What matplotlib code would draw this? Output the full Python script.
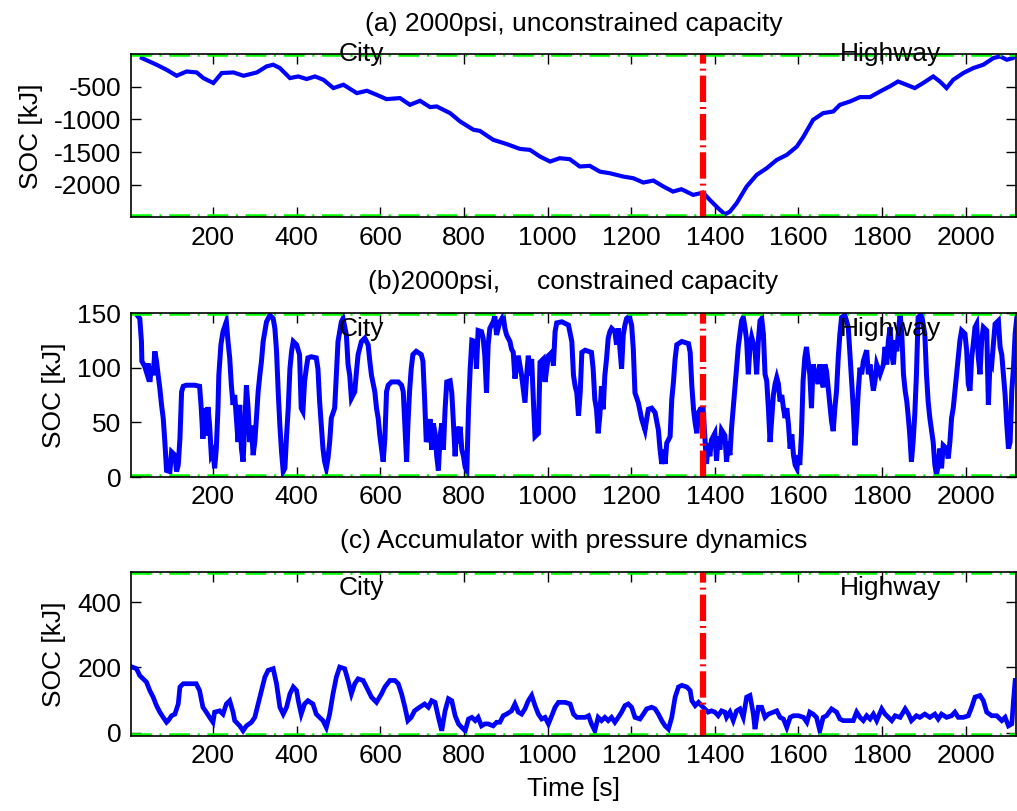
import numpy as np
import matplotlib
matplotlib.use("Agg")
import matplotlib.pyplot as plt

# (a) 2000psi, unconstrained capacity
t_a = [30, 65, 89, 113, 137, 161, 177, 201, 221, 249, 273, 305, 328, 344, 360, 384,
       404, 424, 444, 464, 488, 512, 544, 568, 591, 615, 647, 671, 695, 719, 735, 767,
       791, 823, 838, 870, 902, 934, 958, 982, 1006, 1029, 1053, 1077, 1101, 1125, 1149,
       1181, 1205, 1229, 1253, 1277, 1300, 1320, 1348, 1372, 1388, 1408, 1424, 1436,
       1452, 1476, 1500, 1524, 1548, 1572, 1596, 1612, 1635, 1659, 1683, 1699, 1723,
       1747, 1771, 1795, 1818, 1838, 1858, 1878, 1898, 1922, 1938, 1954, 1970, 1994,
       2018, 2042, 2066, 2082, 2098, 2113, 2122]
soc_a = [-61, -163, -240, -332, -266, -281, -367, -443, -290, -281, -332, -281, -189,
         -163, -214, -367, -342, -382, -342, -393, -520, -469, -597, -561, -622, -689,
         -673, -776, -714, -811, -801, -903, -1031, -1158, -1174, -1311, -1375, -1450,
         -1465, -1567, -1643, -1592, -1607, -1719, -1709, -1797, -1822, -1873, -1898,
         -1964, -1934, -2025, -2102, -2066, -2153, -2118, -2230, -2357, -2450, -2409,
         -2281, -2025, -1847, -1745, -1618, -1541, -1414, -1261, -1005, -903, -878,
         -776, -725, -658, -658, -572, -495, -419, -469, -520, -443, -342, -419, -520,
         -393, -290, -214, -163, -61, -36, -87, -61, -10]

# (b) 2000psi, constrained capacity
t_b = [21, 25, 29, 30, 37, 41, 45, 49, 53, 57, 61, 65, 69, 73, 77, 81, 85, 89, 97, 101,
       109, 113, 117, 121, 125, 129, 136, 156, 168, 172, 176, 180, 184, 188, 192, 196,
       200, 204, 208, 212, 214, 219, 224, 232, 236, 240, 244, 248, 252, 256, 260, 264,
       268, 272, 276, 280, 284, 288, 292, 296, 300, 304, 308, 312, 316, 320, 328, 336,
       344, 348, 352, 356, 360, 364, 368, 372, 376, 380, 384, 388, 392, 400, 407, 411,
       415, 419, 423, 427, 435, 447, 451, 455, 459, 463, 467, 471, 475, 479, 483, 491,
       495, 499, 507, 511, 519, 523, 527, 531, 539, 543, 547, 555, 563, 571, 575, 579,
       587, 591, 595, 599, 603, 607, 611, 615, 619, 627, 643, 651, 655, 659, 663, 666,
       670, 674, 678, 686, 698, 702, 706, 710,
       715, 719, 723, 727, 731, 735, 739, 743, 747, 751, 755, 759, 767, 771, 775, 779,
       783, 787, 791, 795, 799, 803, 807, 811, 815, 819, 827, 830, 834, 842, 846, 850,
       854, 858, 862, 870, 874, 878, 886, 894, 898, 902, 910, 914, 918, 922, 930, 938,
       946, 950, 954, 958, 962, 966, 970, 978, 982, 990, 994, 998, 1002, 1010, 1014,
       1018, 1022, 1034, 1050, 1058, 1062, 1066, 1070, 1074, 1078, 1082, 1090, 1105,
       1109, 1113, 1117, 1121, 1125, 1129, 1133, 1137, 1141, 1145, 1149, 1153, 1161,
       1165, 1169, 1173, 1177, 1181, 1185, 1189, 1195, 1201, 1205, 1209, 1217, 1225,
       1233, 1237, 1241, 1249, 1257, 1265, 1269, 1273, 1277, 1281, 1285, 1293, 1297,
       1301, 1305, 1309, 1321, 1337, 1341, 1345, 1349, 1353, 1357, 1361, 1365, 1372,
       1376, 1380, 1384, 1388, 1392, 1400, 1404, 1408, 1412, 1416,
       1424, 1428, 1432, 1436, 1440, 1444, 1448, 1452, 1456, 1460, 1464, 1468, 1472,
       1476, 1480, 1484, 1488, 1496, 1500, 1504, 1508, 1512, 1516, 1520, 1524, 1528,
       1532, 1536, 1540, 1544, 1548, 1552, 1556, 1560, 1564, 1568, 1572, 1576, 1580,
       1584, 1588, 1592, 1596, 1600, 1603, 1607, 1611, 1615, 1619, 1623, 1627, 1631,
       1635, 1639, 1643, 1647, 1651, 1655, 1659, 1663, 1667, 1671, 1675, 1679, 1683,
       1687, 1691, 1695, 1699, 1703, 1711, 1719, 1723, 1727, 1731, 1735, 1739, 1743,
       1747, 1751, 1755, 1763, 1767, 1771, 1779, 1783, 1787, 1795, 1803, 1807, 1811,
       1815, 1819, 1823, 1827, 1831, 1835, 1839, 1843, 1847, 1851, 1855, 1859, 1862,
       1866, 1870, 1874, 1878, 1882, 1886, 1894, 1902, 1906, 1910, 1914, 1922, 1926,
       1930, 1934, 1938, 1942, 1946, 1954, 1958, 1962, 1966, 1970, 1974, 1978, 1982,
       1986, 1990, 1998, 2002, 2006, 2010, 2014, 2018, 2022, 2026, 2030, 2034, 2038,
       2042, 2050, 2054, 2058, 2062, 2070, 2078, 2082, 2086, 2090, 2094, 2098, 2102,
       2106, 2110, 2114, 2118, 2122]
soc_b = [147, 145, 124, 106, 101, 96, 104, 87, 101, 93, 115, 106, 93, 81, 66, 54, 32, 6,
         5, 23, 20, 5, 11, 35, 78, 83, 84, 84, 83, 63, 35, 63, 38, 64, 47, 20, 23, 8, 26,
         63, 93, 121, 133, 142, 124, 109, 84, 66, 75, 54, 32, 66, 26, 14, 47, 84, 63, 32,
         47, 20, 32, 54, 78, 93, 106, 124, 142, 148, 145, 136, 115, 78, 47, 23, 5, 8, 38,
         63, 99, 115, 124, 121, 112, 63, 60, 87, 99, 109, 110, 109, 99, 69, 47, 26, 14, 8,
         17, 32, 54, 63, 93, 124, 142, 145, 130, 103, 93, 72, 78, 96, 112, 124, 127, 121,
         106, 93, 78, 63, 54, 38, 26, 14, 35, 78, 84, 87, 87, 84, 78, 47, 14, 47, 78, 99,
         112, 115, 112, 106, 72, 32,
         40, 53, 25, 49, 40, 19, 6, 37, 49, 25, 62, 87, 88, 77, 49, 19, 46, 31, 46, 25,
         19, 9, 6, 62, 99, 125, 124, 99, 134, 133, 127, 111, 77, 121, 136, 142, 147, 130,
         142, 147, 136, 130, 124, 117, 114, 90, 111, 93, 68, 93, 111, 93, 108, 71, 37,
         40, 105, 108, 87, 99, 111, 114, 102, 133, 141, 142, 139, 124, 93, 83, 77, 56,
         77, 114, 116, 114, 99, 71, 62, 40, 56, 83, 62, 93, 108, 127, 133, 136, 133, 121,
         136, 117, 99, 130, 139, 145, 147, 139, 117, 77, 68, 53, 43, 53, 62, 63, 59, 43,
         25, 12, 25, 12, 31, 37, 71, 87, 108, 121, 124, 122, 114, 83, 62, 49, 40, 59, 62,
         62, 37, 12, 31, 19, 34, 40, 15, 37, 25, 43,
         38, 14, 32, 20, 45, 63, 82, 100, 119, 131, 143, 146, 137, 125, 94, 119, 128,
         116, 94, 125, 143, 145, 131, 94, 88, 63, 32, 54, 75, 85, 91, 85, 69, 75, 63, 54,
         63, 48, 26, 39, 20, 11, 8, 20, 11, 39, 88, 109, 119, 106, 94, 63, 103, 97, 94,
         85, 103, 91, 82, 103, 97, 82, 66, 51, 42, 63, 79, 109, 131, 146, 148, 137, 112,
         88, 63, 29, 51, 79, 100, 94, 106, 116, 94, 103, 79, 88, 103, 94, 103, 119, 103,
         125, 137, 112, 103, 125, 115, 134, 149, 131, 94, 79, 69, 57, 39, 14, 32, 57, 94,
         146, 149, 131, 94, 69, 54, 32, 11, 2, 11, 26, 8, 29, 26, 17, 32, 54, 63, 79, 94,
         109, 125, 134, 131, 116, 85, 79, 109, 122, 137, 140, 109, 94, 125, 137, 134, 66,
         106, 103, 140, 143, 119, 112, 94, 75, 48, 26, 32, 79, 100, 131, 146]

# (c) Accumulator with pressure dynamics
t_c = [7, 17, 25, 33, 41, 49, 57, 65, 73, 81, 89, 93, 101, 109, 117, 121, 129, 140, 160,
       168, 176, 184, 192, 200, 204, 216, 224, 232, 240, 248, 252, 264, 272, 280, 292,
       300, 308, 316, 324, 332, 344, 352, 360, 368, 376, 384, 392, 400, 404, 411, 419,
       427, 439, 447, 455, 463, 471, 479, 487, 495, 503, 515, 523, 531, 539, 547, 559,
       567, 579, 591, 603, 611, 623, 635, 643, 651, 659, 666, 674, 682, 694, 706,
       715, 723, 731, 739, 747, 755, 763, 771, 779, 787, 795, 803, 811, 819, 827, 834,
       842, 850, 858, 870, 878, 886, 894, 902, 914, 922, 930, 938, 946, 954, 962, 970,
       978, 986, 994, 1002, 1010, 1018, 1026, 1042, 1054, 1062, 1070, 1082, 1090, 1098,
       1105, 1113, 1121, 1129, 1137, 1145, 1153, 1161, 1169, 1177, 1185, 1193, 1201,
       1209, 1221, 1229, 1237, 1249, 1257, 1265, 1273, 1281, 1289, 1297, 1305, 1313,
       1321, 1333, 1341, 1345, 1353, 1361, 1368, 1376, 1384, 1392, 1400, 1408, 1416,
       1424, 1428, 1436, 1444, 1452, 1460, 1468, 1476, 1484, 1492, 1496, 1504, 1512,
       1520, 1528, 1540, 1548, 1556, 1564, 1572, 1580, 1588, 1600, 1612, 1620, 1627,
       1635, 1643, 1651, 1659, 1667, 1679, 1691, 1699, 1707, 1719, 1731, 1739, 1747,
       1755, 1763, 1771, 1779, 1787, 1799, 1807, 1815, 1823, 1831, 1843, 1855, 1863,
       1870, 1882, 1890, 1902, 1914, 1926, 1934, 1942, 1954, 1966, 1974, 1982, 1994,
       2006, 2014, 2022, 2034, 2042, 2050, 2062, 2074, 2086, 2094, 2102, 2110, 2114,
       2118]
soc_c = [201, 196, 175, 165, 155, 129, 109, 83, 63, 47, 32, 37, 52, 57, 88, 140, 150, 150,
         150, 129, 78, 63, 47, 32, 63, 67, 57, 88, 98, 63, 37, 21, 6, 21, 32, 47, 88, 129,
         170, 191, 196, 150, 78, 57, 78, 119, 140, 129, 98, 57, 88, 98, 88, 57, 47, 37, 16,
         57, 119, 170, 201, 196, 160, 119, 150, 165, 160, 140, 109, 93, 119, 140, 160, 160,
         150, 119, 78, 37, 47, 67, 78, 88,
         78, 98, 93, 47, 6, 67, 104, 98, 52, 27, 16, 6, 42, 47, 37, 47, 21, 27, 27, 21,
         32, 32, 52, 57, 67, 88, 63, 57, 73, 98, 114, 83, 57, 42, 47, 27, 52, 78, 93, 93,
         88, 57, 47, 47, 47, 52, 27, 6, 47, 37, 47, 37, 47, 32, 47, 63, 83, 88, 78, 47,
         42, 57, 73, 78, 73, 57, 37, 21, 11, 47, 109, 140, 145, 140, 129, 98, 83, 93, 83,
         73, 63, 67, 63, 52, 67,
         63, 47, 63, 37, 67, 73, 47, 109, 114, 57, 11, 78, 78, 47, 57, 63, 67, 47, 42, 16,
         47, 52, 52, 47, 32, 63, 57, 47, 6, 47, 52, 73, 63, 42, 37, 37, 37, 63, 47, 37,
         52, 42, 57, 37, 73, 57, 47, 37, 52, 47, 73, 57, 37, 52, 47, 57, 47, 57, 42, 57,
         47, 52, 63, 47, 47, 52, 78, 109, 114, 98, 63, 52, 52, 37, 47, 21, 27, 98, 160]

x_limits = (4, 2120)
ylims = [(-2495, -3), (0, 150), (-10, 492)]
t_switch = 1371
city_x, highway_x = 500, 1700
titles = ["(a) 2000psi, unconstrained capacity",
          "(b)2000psi,     constrained capacity",
          "(c) Accumulator with pressure dynamics"]
yticks = [[-2000, -1500, -1000, -500], [0, 50, 100, 150], [0, 200, 400]]
xticks = list(range(200, 2001, 200))
line_widths = [3.0, 3.6, 3.4]

plt.rcParams['font.family'] = ['Liberation Sans', 'DejaVu Sans']
plt.rcParams['font.size'] = 19
plt.rcParams['lines.scale_dashes'] = False
plt.rcParams['axes.unicode_minus'] = False

fig = plt.figure(figsize=(10.17, 8.11), dpi=100)
left, width = 0.1288, 0.8702
boxes = [(left, 0.7321, width, 0.2010),
         (left, 0.4118, width, 0.2022),
         (left, 0.0925, width, 0.2022)]
series = [(t_a, soc_a), (t_b, soc_b), (t_c, soc_c)]

for i, (box, (t, soc)) in enumerate(zip(boxes, series)):
    ax = fig.add_axes(box)
    ax.plot(t, soc, color='#0000ff', lw=line_widths[i], solid_joinstyle='miter')
    ymin, ymax = ylims[i]
    for yy in (ymin, ymax):
        ax.axhline(yy, color='#00ff00', lw=4, linestyle=(0, (15, 5.5, 1.5, 5.5)))
    ax.axvline(t_switch, color='#ff0000', lw=4.5, linestyle=(0, (19, 3.6, 1.4, 3.6)))
    ytxt = 0.9 * ymax if ymax > 0 else ymax
    ax.text(city_x, ytxt, 'City', ha='left', va='center')
    ax.text(highway_x, ytxt, 'Highway', ha='left', va='center')
    ax.set_xlim(*x_limits)
    ax.set_ylim(ymin, ymax)
    ax.set_xticks(xticks)
    ax.set_yticks(yticks[i])
    ax.tick_params(direction='in', top=True, right=True, length=7, width=1, pad=6)
    ax.tick_params(axis='y', pad=7)
    for s in ax.spines.values():
        s.set_linewidth(1.2)
    ax.set_title(titles[i], pad=17, fontsize=19)
    ax.set_ylabel('SOC [kJ]', labelpad=8)
    if i == 2:
        ax.set_xlabel('Time [s]', labelpad=6)

fig.savefig('out.png', dpi=100)
